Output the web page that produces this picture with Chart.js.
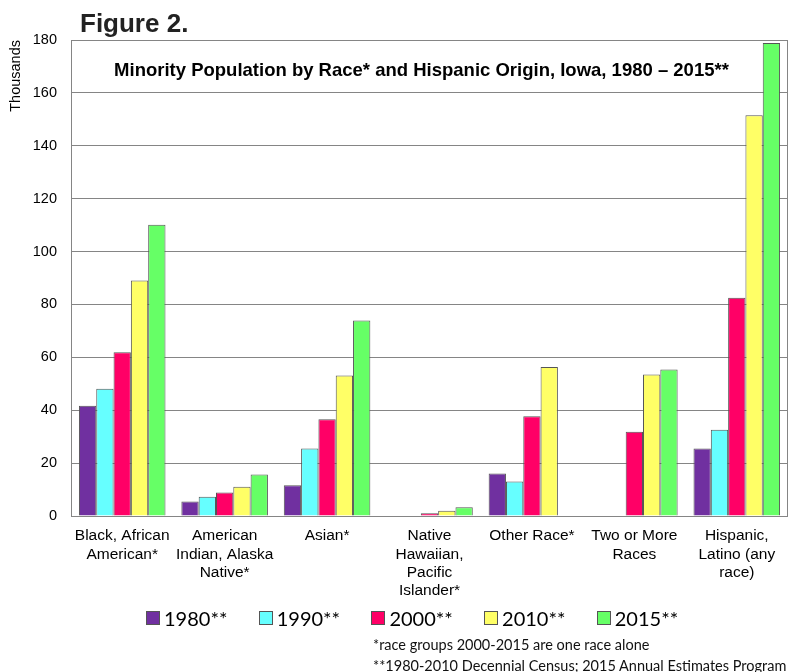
<!DOCTYPE html>
<html lang="en">
<head>
    <meta charset="UTF-8">
    <title>Minority Population by Race and Hispanic Origin, Iowa</title>
    <script src="https://cdn.jsdelivr.net/npm/chart.js"></script>
    <style>
        html, body { margin: 0; padding: 0; background: #fff; }
        #wrap { position: relative; width: 790px; height: 672px; overflow: hidden; }
        #popChart { position: absolute; left: 0; top: 0; }
        .fig { position: absolute; left: 80px; top: 10px; font: bold 26px "Liberation Sans", Arial, sans-serif; line-height: 26px; color: #222; }
        .inner-title { position: absolute; left: 63px; width: 717px; top: 59px; text-align: center;
                       font: bold 18.5px "Liberation Sans", Arial, sans-serif; line-height: 22px; color: #000; }
        #legend { position: absolute; left: 146px; top: 607px; height: 22px; display: flex; }
        #legend .item { width: 112.7px; display: flex; align-items: center; font: 20px Lato, "Open Sans", sans-serif; line-height: 22px; color: #000; }
        #legend .box { width: 12px; height: 12px; border: 1px solid #555; margin-right: 4px; }
        .notes { position: absolute; left: 373px; top: 634px; font: 14.5px Lato, "Open Sans", sans-serif; line-height: 21px; color: #111; white-space: nowrap; }
    </style>
</head>
<body>
<div id="wrap">
    <canvas id="popChart" width="790" height="672"></canvas>
    <div class="fig">Figure 2.</div>
    <div class="inner-title">Minority Population by Race* and Hispanic Origin, Iowa, 1980 – 2015**</div>
    <div id="legend"></div>
    <div class="notes">*race groups 2000-2015 are one race alone<br>**1980-2010 Decennial Census; 2015 Annual Estimates Program</div>
</div>

<script>
    // categories (multi-line labels)
    const groups = [
        ['Black, African', 'American*'],
        ['American', 'Indian, Alaska', 'Native*'],
        ['Asian*'],
        ['Native', 'Hawaiian,', 'Pacific', 'Islander*'],
        ['Other Race*'],
        ['Two or More', 'Races'],
        ['Hispanic,', 'Latino (any', 'race)']
    ];

    // population in thousands
    const pop1980 = [41.7, 5.5, 11.6, null, 16.1, null, 25.5];
    const pop1990 = [48.1, 7.3, 25.5, null, 13.0, null, 32.6];
    const pop2000 = [61.9, 8.9, 36.6, 1.0, 37.7, 31.9, 82.5];
    const pop2010 = [89.1, 11.1, 53.1, 2.0, 56.3, 53.5, 151.5];
    const pop2015 = [110.1, 15.7, 73.9, 3.3, null, 55.4, 178.9];

    const seriesNames = ['1980**', '1990**', '2000**', '2010**', '2015**'];
    const seriesColors = ['#7030A0', '#66FFFF', '#FF0066', '#FFFF66', '#66FF66'];
    const seriesValues = [pop1980, pop1990, pop2000, pop2010, pop2015];

    const yMin = 0, yMax = 180, yStep = 20;

    Chart.defaults.font.family = '"Liberation Sans", Arial, sans-serif';
    Chart.defaults.color = '#000';

    // draws the right edge of the plot frame
    const frameRight = {
        id: 'frameRight',
        afterDraw(chart) {
            const a = chart.chartArea, ctx = chart.ctx;
            ctx.save();
            ctx.strokeStyle = '#858585';
            ctx.lineWidth = 1;
            ctx.beginPath();
            ctx.moveTo(a.right - 0.5, a.top);
            ctx.lineTo(a.right - 0.5, a.bottom);
            ctx.stroke();
            ctx.restore();
        }
    };

    const datasets = seriesNames.map((name, i) => ({
        label: name,
        data: seriesValues[i],
        backgroundColor: seriesColors[i],
        borderColor: '#555',
        borderWidth: 1,
        barPercentage: 1.0,
        categoryPercentage: 0.845
    }));

    const chart = new Chart(document.getElementById('popChart'), {
        type: 'bar',
        data: { labels: groups, datasets: datasets },
        plugins: [frameRight],
        options: {
            responsive: false,
            animation: false,
            layout: { padding: { top: 40, right: 2, bottom: 74, left: 0 } },
            plugins: {
                legend: { display: false },
                tooltip: { enabled: false }
            },
            scales: {
                x: {
                    grid: { display: false, drawTicks: false },
                    border: { display: false },
                    ticks: {
                        autoSkip: false,
                        maxRotation: 0,
                        padding: 11,
                        font: { size: 15.5, lineHeight: 1.18 }
                    },
                    afterFit(scale) { scale.height = 82; }
                },
                y: {
                    min: yMin,
                    max: yMax,
                    grid: { color: '#858585', lineWidth: 1, drawTicks: false },
                    border: { display: true, color: '#858585' },
                    ticks: {
                        stepSize: yStep,
                        padding: 14,
                        font: { size: 14.5 }
                    },
                    title: {
                        display: true,
                        text: 'Thousands',
                        align: 'end',
                        padding: { top: 7, bottom: 0 },
                        font: { size: 14.5 }
                    },
                    afterFit(scale) { scale.width = 71; }
                }
            }
        }
    });

    // legend built from the chart's own datasets
    const legendEl = document.getElementById('legend');
    chart.data.datasets.forEach(ds => {
        const item = document.createElement('div');
        item.className = 'item';
        const box = document.createElement('span');
        box.className = 'box';
        box.style.background = ds.backgroundColor;
        item.appendChild(box);
        item.appendChild(document.createTextNode(ds.label));
        legendEl.appendChild(item);
    });
</script>
</body>
</html>
